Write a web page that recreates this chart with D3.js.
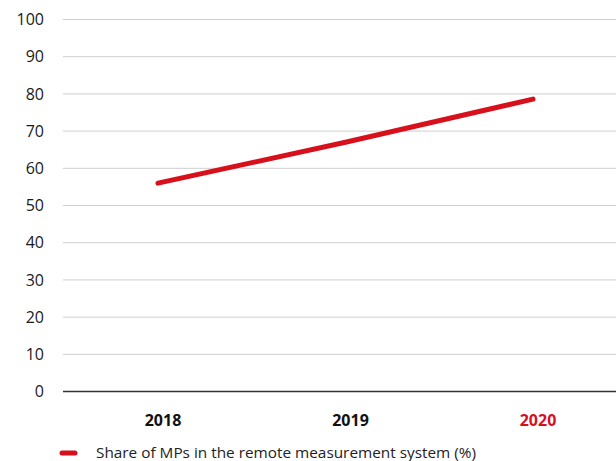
<!DOCTYPE html>
<html><head><meta charset="utf-8">
<script src="https://cdn.jsdelivr.net/npm/d3@7"></script>
<style>
html,body{margin:0;padding:0;background:#fff;}
svg{display:block;font-family:"Open Sans","Noto Sans",sans-serif;}
</style></head>
<body><svg id="c" width="616" height="461"></svg>
<script>
const categories = ["2018", "2019", "2020"];
const values = [56.0, 67.0, 78.6];
const yTicks = [0, 10, 20, 30, 40, 50, 60, 70, 80, 90, 100];
const seriesName = "Share of MPs in the remote measurement system (%)";
const highlightCategory = "2020";

const svg = d3.select("#c");
const red = "#d7101b";
const x = d3.scalePoint().domain(categories).range([158, 533]);
const y = d3.scaleLinear().domain([0, 100]).range([391.5, 19.5]);
const plotLeft = 63, plotRight = 616;

// grid lines
svg.append("g").selectAll("line").data(yTicks.filter(d => d > 0)).join("line")
  .attr("x1", plotLeft).attr("x2", plotRight)
  .attr("y1", d => y(d)).attr("y2", d => y(d))
  .attr("stroke", "#cfcfcf").attr("stroke-width", 1);

// zero line
svg.append("line").attr("x1", plotLeft).attr("x2", plotRight)
  .attr("y1", y(0)).attr("y2", y(0)).attr("stroke", "#333").attr("stroke-width", 1.3);

// y axis labels
const yAxis = d3.axisLeft(y).tickValues(yTicks).tickSize(0).tickPadding(0);
const ga = svg.append("g").attr("transform", "translate(44,0)").call(yAxis);
ga.select(".domain").remove();
ga.selectAll("text").attr("font-size", 16).attr("fill", "#1a1a1a")
  .attr("font-family", "'Open Sans','Noto Sans',sans-serif");

// x labels
svg.append("g").selectAll("text").data(categories).join("text")
  .attr("x", d => x(d) + 5).attr("y", 426)
  .attr("text-anchor", "middle").attr("font-size", 16).attr("font-weight", 700)
  .attr("fill", d => d === highlightCategory ? red : "#111")
  .text(d => d);

// line
const line = d3.line().x((d, i) => x(categories[i])).y(d => y(d)).curve(d3.curveMonotoneX);
svg.append("path").datum(values).attr("d", line)
  .attr("fill", "none").attr("stroke", red).attr("stroke-width", 5)
  .attr("stroke-linecap", "round").attr("stroke-linejoin", "round");

// legend
svg.append("line").attr("x1", 62).attr("x2", 75).attr("y1", 453).attr("y2", 453)
  .attr("stroke", red).attr("stroke-width", 5).attr("stroke-linecap", "round");
svg.append("text").attr("x", 96).attr("y", 458).attr("font-size", 14).attr("fill", "#222")
  .attr("textLength", 380).attr("lengthAdjust", "spacingAndGlyphs")
  .text(seriesName);
</script></body></html>
